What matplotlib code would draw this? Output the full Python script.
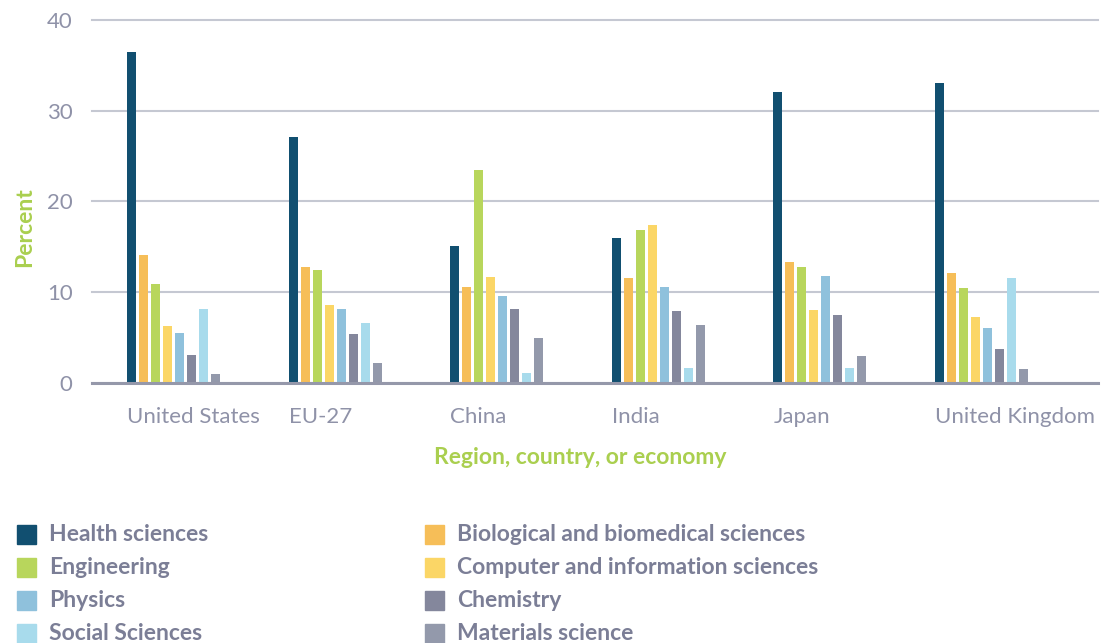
import matplotlib
matplotlib.use("Agg")
import matplotlib.pyplot as plt
from matplotlib.patches import Rectangle
import numpy as np

regions = ["United States", "EU-27", "China", "India", "Japan", "United Kingdom"]
fields = [
    "Health sciences",
    "Biological and biomedical sciences",
    "Engineering",
    "Computer and information sciences",
    "Physics",
    "Chemistry",
    "Social Sciences",
    "Materials science",
]
health = [36.4, 27.1, 15.1, 16.0, 32.0, 33.0]
biological = [14.1, 12.8, 10.6, 11.6, 13.3, 12.1]
engineering = [10.9, 12.4, 23.5, 16.8, 12.8, 10.5]
computer = [6.3, 8.6, 11.7, 17.4, 8.0, 7.3]
physics = [5.5, 8.1, 9.6, 10.6, 11.8, 6.1]
chemistry = [3.1, 5.4, 8.1, 7.9, 7.5, 3.7]
social = [8.1, 6.6, 1.1, 1.6, 1.6, 11.6]
materials = [1.0, 2.2, 4.9, 6.4, 3.0, 1.5]
values = [health, biological, engineering, computer, physics, chemistry, social, materials]

colors = ["#114f70", "#f6be58", "#b8d65c", "#fbd666",
          "#8fc1dc", "#84879c", "#a8dbec", "#9399ab"]

TICK_C = "#8f92a8"
LEG_C = "#7b7e96"
GREEN = "#aacf4f"
FONT = "Lato"

W, H = 1108, 643
fig = plt.figure(figsize=(W / 100, H / 100), dpi=100)
ax = fig.add_axes([92 / W, 1 - 383 / H, (1098 - 92) / W, (383 - 19.7) / H])

group_px = 161.6
bar_w = 9 / group_px
step = 12 / group_px
x = np.arange(len(regions))
for j, (vals, c) in enumerate(zip(values, colors)):
    ax.bar(x + j * step, vals, width=bar_w, align="edge", color=c, zorder=3)

ax.set_xlim((92 - 127) / group_px, (1098 - 127) / group_px)
ax.set_ylim(0, 40)
ax.set_yticks([0, 10, 20, 30, 40])
ax.yaxis.grid(True, color="#c5c8d2", linewidth=1.5, zorder=0)
for gl in ax.get_ygridlines():
    gl.set_clip_on(False)
ax.axhline(0, color="#9598aa", linewidth=2.2, zorder=4, clip_on=False)

for s in ax.spines.values():
    s.set_visible(False)
ax.tick_params(axis="both", length=0, labelsize=16, labelcolor=TICK_C)
ax.tick_params(axis="y", pad=14)
ax.tick_params(axis="x", pad=17)
ax.set_xticks(x)
ax.set_xticklabels(regions, ha="left", fontfamily=FONT)
for lab in ax.get_yticklabels():
    lab.set_fontfamily(FONT)

fig.text(25 / W, 1 - 227 / H, "Percent", rotation=90, ha="center", va="center",
         color=GREEN, fontsize=16.5, fontweight="bold", fontfamily=FONT)
fig.text(580 / W, 1 - 458 / H, "Region, country, or economy", ha="center", va="center",
         color=GREEN, fontsize=16.5, fontweight="bold", fontfamily=FONT)

# legend, two columns
col_x = [17, 425]
for k, (name, c) in enumerate(zip(fields, colors)):
    col, row = k % 2, k // 2
    cy = 534.5 + row * 33
    fig.patches.append(Rectangle((col_x[col] / W, 1 - (cy + 9.5) / H), 19 / W, 19 / H,
                                 transform=fig.transFigure, color=c))
    fig.text((col_x[col] + 32) / W, 1 - cy / H, name, ha="left", va="center",
             color=LEG_C, fontsize=16.5, fontweight="bold", fontfamily=FONT)

fig.savefig("out.png", dpi=100)
